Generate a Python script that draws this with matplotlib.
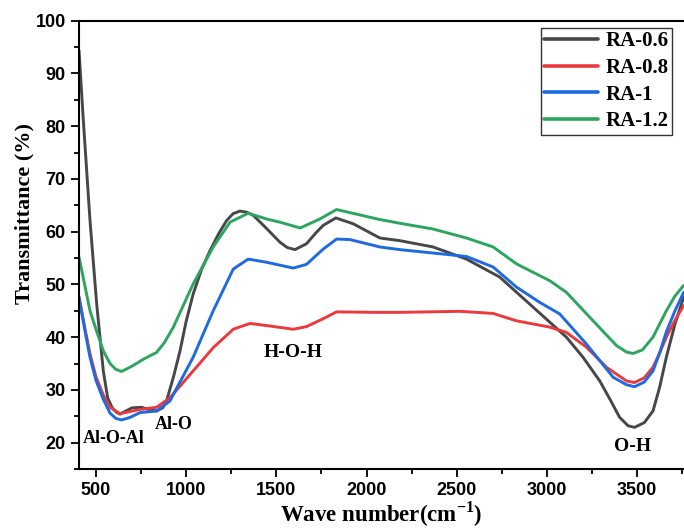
import matplotlib
matplotlib.use("Agg")
import matplotlib.pyplot as plt
from matplotlib.ticker import MultipleLocator

plt.rcParams["mathtext.fontset"] = "custom"
plt.rcParams["mathtext.rm"] = "Liberation Serif"
plt.rcParams["mathtext.bf"] = "Liberation Serif:bold"

# FTIR transmittance spectra (wave number in cm^-1, transmittance in %)
x_ra06 = [406, 430, 467, 504, 541, 565, 590, 612, 633, 660, 700, 753, 800, 836, 870, 892,
          930, 966, 1000, 1039, 1085, 1132, 1180, 1224, 1260, 1298, 1335, 1372, 1446, 1520,
          1560, 1603, 1667, 1720, 1760, 1830, 1926, 2074, 2184, 2369, 2554, 2738, 2923,
          3108, 3200, 3293, 3350, 3403, 3450, 3486, 3540, 3588, 3625, 3662, 3710, 3758]
t_ra06 = [94.4, 81.1, 62.1, 46.3, 33.5, 28.5, 26.6, 25.8, 25.4, 25.9, 26.6, 26.7, 26.2,
          26.0, 26.6, 28.0, 32.5, 37.4, 43.0, 48.2, 52.8, 56.4, 59.6, 62.1, 63.4, 63.9,
          63.7, 63.1, 60.6, 58.0, 57.0, 56.6, 57.7, 59.8, 61.2, 62.6, 61.5, 58.8, 58.3,
          57.1, 54.8, 51.4, 45.7, 40.0, 36.2, 31.7, 28.2, 24.8, 23.2, 22.9, 23.8, 26.0,
          30.5, 36.2, 42.5, 47.6]

x_ra08 = [406, 440, 467, 500, 541, 578, 633, 690, 744, 836, 910, 1039, 1150, 1261, 1354,
          1446, 1594, 1667, 1760, 1834, 2055, 2184, 2517, 2702, 2831, 3016, 3108, 3219,
          3330, 3441, 3486, 3540, 3588, 3625, 3662, 3710, 3758]
t_ra08 = [47.6, 41.5, 36.8, 32.5, 29.0, 26.7, 25.5, 25.9, 26.3, 26.7, 28.5, 33.6, 38.0,
          41.5, 42.6, 42.2, 41.5, 42.0, 43.5, 44.8, 44.7, 44.7, 44.9, 44.5, 43.1, 41.9, 40.9,
          38.1, 34.3, 31.7, 31.4, 32.3, 34.3, 37.0, 40.0, 43.2, 46.0]

x_ra1 = [406, 440, 467, 500, 541, 578, 610, 642, 690, 744, 836, 910, 1039, 1150, 1261,
         1344, 1446, 1594, 1667, 1760, 1834, 1908, 2074, 2184, 2554, 2702, 2831, 2960, 3071,
         3219, 3367, 3440, 3486, 3540, 3588, 3625, 3662, 3710, 3758]
t_ra1 = [47.6, 41.0, 36.2, 31.8, 28.2, 25.6, 24.6, 24.3, 24.8, 25.7, 26.0, 27.9, 36.2, 45.0,
         52.9, 54.8, 54.2, 53.1, 53.8, 56.7, 58.6, 58.5, 57.1, 56.6, 55.3, 53.3, 49.5, 46.6,
         44.4, 38.7, 32.4, 31.0, 30.6, 31.5, 33.6, 37.0, 41.0, 45.0, 48.5]

x_ra12 = [406, 440, 467, 500, 541, 578, 610, 642, 700, 762, 836, 880, 929, 1039, 1150,
          1243, 1344, 1446, 1520, 1632, 1741, 1834, 2074, 2184, 2369, 2554, 2702, 2831,
          3016, 3108, 3256, 3386, 3440, 3478, 3530, 3588, 3625, 3662, 3710, 3758]
t_ra12 = [55.2, 49.5, 45.0, 41.5, 37.4, 35.0, 33.9, 33.5, 34.5, 35.8, 37.1, 39.0, 41.9,
          50.1, 57.1, 61.8, 63.5, 62.4, 61.8, 60.7, 62.4, 64.2, 62.3, 61.6, 60.5, 58.8, 57.1,
          53.9, 50.7, 48.5, 43.1, 38.4, 37.2, 36.9, 37.6, 40.0, 42.5, 45.0, 47.8, 49.8]

series_labels = ["RA-0.6", "RA-0.8", "RA-1", "RA-1.2"]
series_colors = ["#474747", "#ec3a3c", "#1e6ae0", "#2ca65f"]

# Band assignments: (text, wave number, transmittance at baseline, font size)
band_labels = ["Al-O-Al", "Al-O", "H-O-H", "O-H"]
band_x = [600, 931, 1592, 3477]
band_y = [20.0, 22.5, 36.2, 18.4]
band_size = [13, 13, 14, 14]

serif = ["Liberation Serif", "DejaVu Serif"]
sans = ["Liberation Sans", "DejaVu Sans"]

fig = plt.figure(figsize=(6.84, 5.28), dpi=100)
ax = fig.add_axes([0.1155, 0.1117, 0.8845, 0.8491])

xs = [x_ra06, x_ra08, x_ra1, x_ra12]
ys = [t_ra06, t_ra08, t_ra1, t_ra12]
for xv, yv, lab, col in zip(xs, ys, series_labels, series_colors):
    ax.plot(xv, yv, color=col, lw=2.1, label=lab, solid_capstyle="round",
            solid_joinstyle="round")

for txt, bx, by, fs in zip(band_labels, band_x, band_y, band_size):
    ax.text(bx, by, txt, ha="center", va="baseline", fontsize=fs,
            fontweight="bold", family=serif)

ax.set_xlim(406, 3760)
ax.set_ylim(15, 100)
ax.xaxis.set_major_locator(MultipleLocator(500))
ax.xaxis.set_minor_locator(MultipleLocator(250))
ax.yaxis.set_major_locator(MultipleLocator(10))
ax.yaxis.set_minor_locator(MultipleLocator(5))
ax.set_yticks(range(20, 101, 10))

ax.tick_params(axis="both", which="major", direction="out", length=6, width=1.3,
               labelsize=13)
ax.tick_params(axis="both", which="minor", direction="out", length=3.5, width=1.3)
ax.tick_params(axis="both", which="both", top=False, right=False)
for lbl in ax.get_xticklabels() + ax.get_yticklabels():
    lbl.set_family(sans)
    lbl.set_fontweight("bold")

for side in ["left", "bottom", "top"]:
    ax.spines[side].set_linewidth(1.5)
ax.spines["right"].set_visible(False)

ax.set_xlabel("Wave number(cm$^{\\mathbf{-1}}$)", fontsize=16.5, fontweight="bold",
              family=serif, labelpad=0.5)
ax.set_ylabel("Transmittance (%)", fontsize=16, fontweight="bold", family=serif)
ax.yaxis.set_label_coords(-0.0744, 0.571)

leg = ax.legend(loc="upper right", bbox_to_anchor=(0.9797, 0.983), frameon=True,
                fancybox=False, edgecolor="black", handlelength=2.6, handletextpad=0.35,
                borderpad=0.15, labelspacing=0.32, borderaxespad=0.0,
                prop={"family": serif, "weight": "bold", "size": 15})
leg.get_frame().set_linewidth(1.0)
for line in leg.get_lines():
    line.set_linewidth(2.6)

fig.savefig("out.png", dpi=100)
